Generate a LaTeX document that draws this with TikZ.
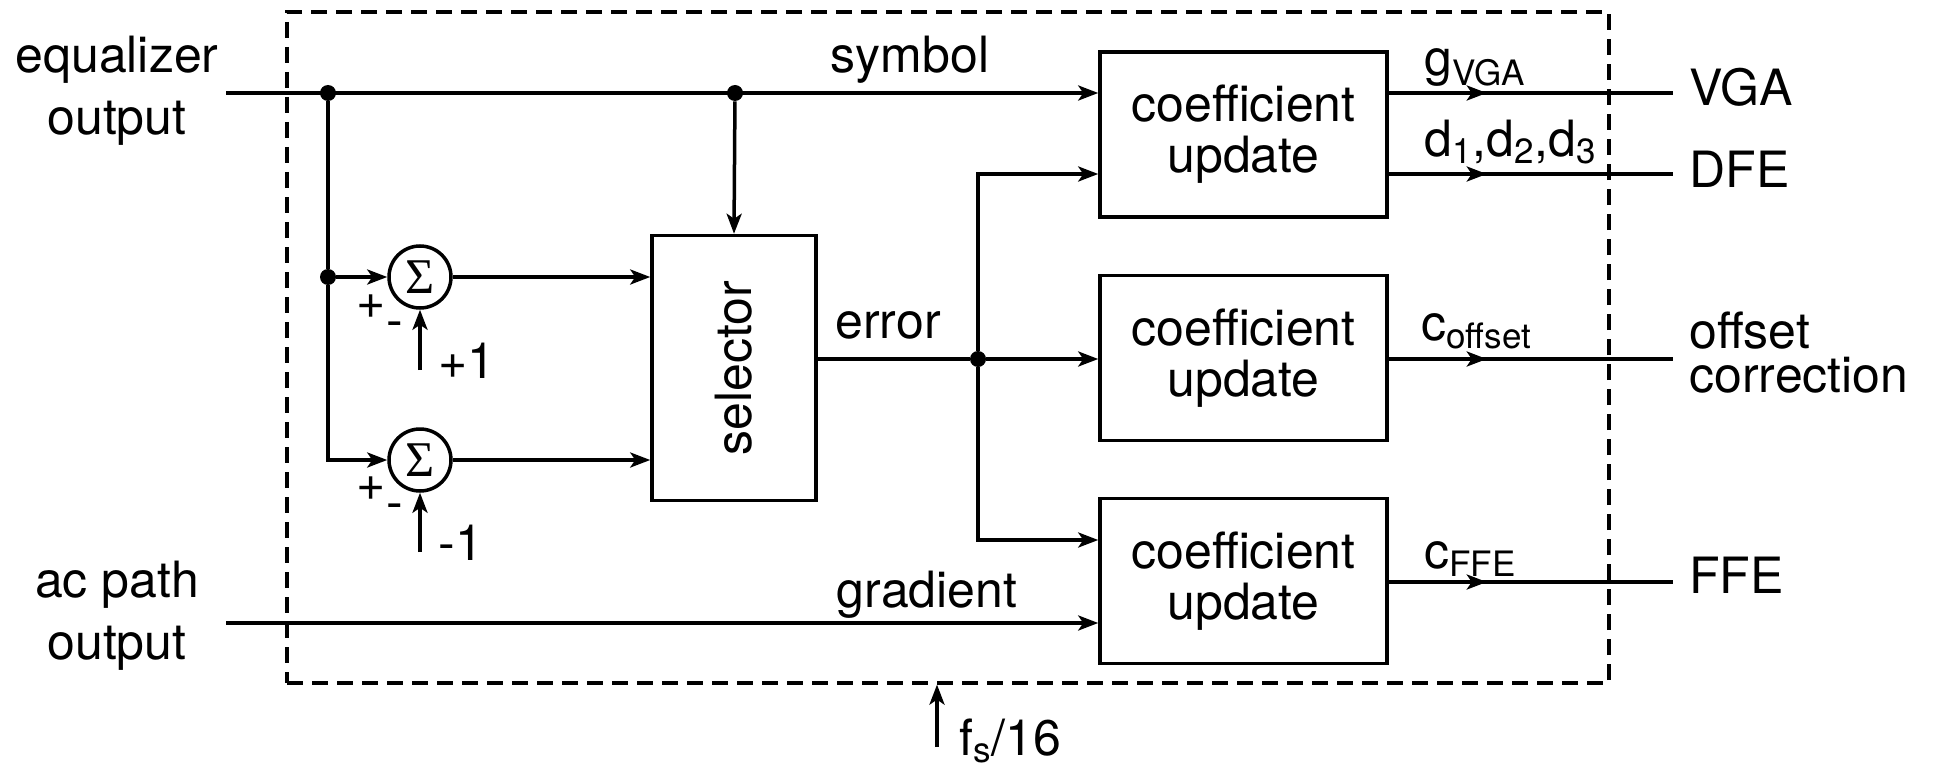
\documentclass[tikz,border=0pt]{standalone}
\usepackage{fontspec}
\setmainfont{TeX Gyre Heros}
\newfontfamily\sigmafont{Liberation Serif}
\usetikzlibrary{arrows.meta}

\begin{document}
\begin{tikzpicture}[x=0.5pt,y=-0.5pt,
  wire/.style={line width=1.75pt},
  arr/.style={wire,-{Stealth[length=10pt,width=7.5pt,inset=2.5pt]}},
  blk/.style={draw,line width=1.75pt,minimum width=143.5pt,minimum height=82.5pt,
    align=center,inner sep=0pt,font=\fontsize{25}{25.5}\selectfont},
  sumnode/.style={draw,circle,line width=1.75pt,minimum size=31pt,inner sep=0pt,
    font=\sigmafont\fontsize{25}{25}\selectfont},
  dot/.style={circle,fill,inner sep=0pt,minimum size=8pt},
  lbl/.style={inner sep=0pt,font=\fontsize{25}{31}\selectfont},
  sgn/.style={inner sep=0pt,font=\fontsize{25}{25}\selectfont},
  frame/.style={draw,line width=1.6pt,dash pattern=on 8pt off 4.5pt,inner sep=0pt},
]
\useasboundingbox (0,0) rectangle (1933,765);

% adaptation block outline
\node[frame,minimum width=661pt,minimum height=335.5pt] (box) at (948,347.5) {};

% blocks
\node[blk] (cu1) at (1243.5,134.5) {coefficient\\update};
\node[blk] (cu2) at (1243.5,358) {coefficient\\update};
\node[blk] (cu3) at (1243.5,581) {coefficient\\update};
\node[draw,line width=1.75pt,minimum width=82pt,minimum height=132.5pt,inner sep=0pt,
  font=\fontsize{25}{25}\selectfont] (sel) at (734,368) {\rotatebox{90}{selector}};
\node[sumnode] (s1) at (420,277) {Σ};
\node[sumnode] (s2) at (420,460) {Σ};

% junctions and free ends
\node[dot] (j1) at (328,93) {};
\node[dot] (j2) at (735,93) {};
\node[dot] (j3) at (328,277) {};
\node[dot] (j4) at (978,359) {};
\coordinate (eqin) at (226,93);
\coordinate (acin) at (226,623);
\coordinate (p1) at (420,370);
\coordinate (p2) at (420,552);
\coordinate (fsin) at (937,747);
\coordinate (ovga) at (1673,93);
\coordinate (odfe) at (1673,174);
\coordinate (ooff) at (1673,359);
\coordinate (offe) at (1673,582);

% external and internal signals
\draw[arr] (eqin) -- (cu1.west |- eqin);
\draw[wire] (j1) -- (j3);
\draw[arr] (j3) -- (s1.west);
\draw[arr] (j3) |- (s2.west);
\draw[arr] (j2) -- (sel.north);
\draw[arr] (s1.east) -- (sel.west |- s1);
\draw[arr] (s2.east) -- (sel.west |- s2);
\draw[arr] (p1) -- (s1.south);
\draw[arr] (p2) -- (s2.south);
\draw[wire] (sel.east |- j4) -- (j4);
\draw[arr] (j4) -- (cu2.west |- j4);
\draw[arr] (j4) |- (cu1.west |- odfe);
\draw[arr] (j4) |- ([yshift=20.5pt]cu3.west);
\draw[arr] (acin) -- (cu3.west |- acin);
\draw[arr] (fsin) -- (fsin |- box.south);

% coefficient outputs
\draw[wire] (cu1.east |- ovga) -- (ovga);
\draw[arr] (cu1.east |- ovga) -- ++(98,0);
\draw[wire] (cu1.east |- odfe) -- (odfe);
\draw[arr] (cu1.east |- odfe) -- ++(98,0);
\draw[wire] (cu2.east |- ooff) -- (ooff);
\draw[arr] (cu2.east |- ooff) -- ++(98,0);
\draw[wire] (cu3.east |- offe) -- (offe);
\draw[arr] (cu3.east |- offe) -- ++(98,0);

% labels
\node[lbl,align=center] (eqlbl) at (117,91) {equalizer\\output};
\node[lbl,align=center] (aclbl) at (117,616) {ac path\\output};
\node[lbl,anchor=base] (symlbl) at (910,73) {symbol};
\node[lbl,anchor=base] (errlbl) at (888,338) {error};
\node[lbl,anchor=base] (gradlbl) at (927,607) {gradient};
\node[lbl,anchor=base west] (vgalbl) at (1689,106) {VGA};
\node[lbl,anchor=base west] (dfelbl) at (1689,187) {DFE};
\node[lbl,anchor=west,align=left,font=\fontsize{25}{22}\selectfont] (offlbl) at (1689,353) {offset\\correction};
\node[lbl,anchor=base west] (ffelbl) at (1689,593) {FFE};
\node[lbl,anchor=base west] (glbl) at (1424,76) {g\textsubscript{VGA}};
\node[lbl,anchor=base west] (dlbl) at (1424,156) {d\textsubscript{1},d\textsubscript{2},d\textsubscript{3}};
\node[lbl,anchor=base west] (clbl) at (1421,340) {c\textsubscript{offset}};
\node[lbl,anchor=base west] (cflbl) at (1424,568) {c\textsubscript{FFE}};
\node[lbl,anchor=base west] (fslbl) at (959,755) {f\textsubscript{s}/16};
\node[sgn,anchor=base west] (p1lbl) at (438,378) {+1};
\node[sgn,anchor=base west] (m1lbl) at (438,560) {-1};
\node[sgn] (pl1) at (371,307) {+};
\node[sgn] (mi1) at (395,330) {-};
\node[sgn] (pl2) at (371,489) {+};
\node[sgn] (mi2) at (395,512) {-};
\end{tikzpicture}
\end{document}
